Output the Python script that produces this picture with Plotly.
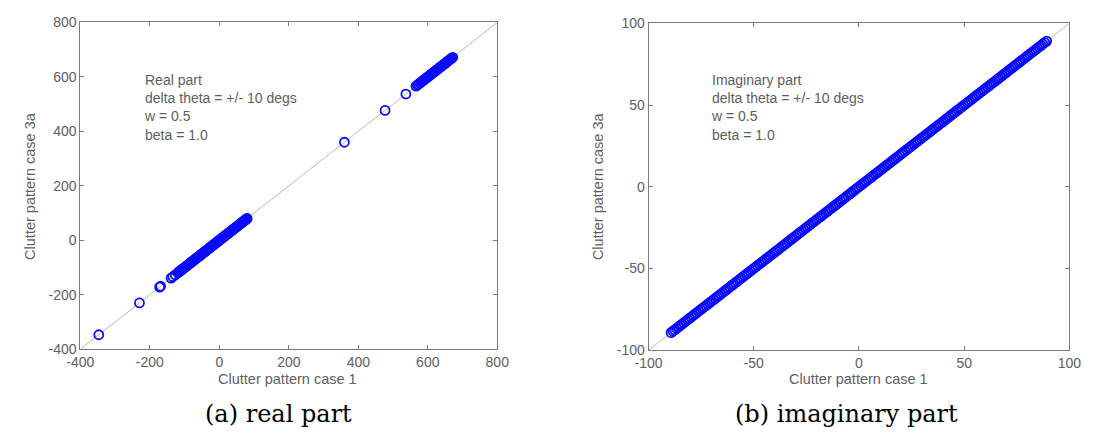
import plotly.graph_objects as go

# Real part: clutter pattern case 1 (x) vs case 3a (y)
real_case1 = [-347, -230, -172, -169, -139, -134, -127,
              -119, -117, -115, -113, -111, -109, -107, -105, -103, -101, -99, -97, -95,
              -93, -91, -89, -87, -85, -83, -81, -79, -77, -75, -73, -71, -69, -67,
              -65, -63, -61, -59, -57, -55, -53, -51, -49, -47, -45, -43, -41, -39,
              -37, -35, -33, -31, -29, -27, -25, -23, -21, -19, -17, -15, -13, -11,
              -9, -7, -5, -3, -1, 1, 3, 5, 7, 9, 11, 13, 15, 17, 19, 21, 23, 25, 27,
              29, 31, 33, 35, 37, 39, 41, 43, 45, 47, 49, 51, 53, 55, 57, 59, 61, 63,
              65, 67, 69, 71, 73, 75, 77, 79, 80,
              360, 477, 537, 566, 570, 573, 577, 580, 583, 586, 589, 592, 595, 598,
              601, 604, 607, 610, 613, 616, 619, 622, 625, 628, 631, 634, 637, 640,
              643, 646, 649, 652, 655, 658, 661, 664, 667, 670, 672]
real_case3a = [-347, -230, -172, -169, -139, -134, -127,
               -119, -117, -115, -113, -111, -109, -107, -105, -103, -101, -99, -97, -95,
               -93, -91, -89, -87, -85, -83, -81, -79, -77, -75, -73, -71, -69, -67,
               -65, -63, -61, -59, -57, -55, -53, -51, -49, -47, -45, -43, -41, -39,
               -37, -35, -33, -31, -29, -27, -25, -23, -21, -19, -17, -15, -13, -11,
               -9, -7, -5, -3, -1, 1, 3, 5, 7, 9, 11, 13, 15, 17, 19, 21, 23, 25, 27,
               29, 31, 33, 35, 37, 39, 41, 43, 45, 47, 49, 51, 53, 55, 57, 59, 61, 63,
               65, 67, 69, 71, 73, 75, 77, 79, 80,
               360, 477, 537, 566, 570, 573, 577, 580, 583, 586, 589, 592, 595, 598,
               601, 604, 607, 610, 613, 616, 619, 622, 625, 628, 631, 634, 637, 640,
               643, 646, 649, 652, 655, 658, 661, 664, 667, 670, 672]

# Imaginary part: clutter pattern case 1 (x) vs case 3a (y)
imag_case1 = [-89.3, -88.4, -87.6, -86.7, -85.8, -84.9, -84.1, -83.2, -82.3, -81.4,
              -80.6, -79.7, -78.8, -77.9, -77.1, -76.2, -75.3, -74.4, -73.6, -72.7,
              -71.8, -70.9, -70.1, -69.2, -68.3, -67.4, -66.6, -65.7, -64.8, -63.9,
              -63.1, -62.2, -61.3, -60.4, -59.6, -58.7, -57.8, -56.9, -56.1, -55.2,
              -54.3, -53.4, -52.6, -51.7, -50.8, -49.9, -49.1, -48.2, -47.3, -46.4,
              -45.6, -44.7, -43.8, -42.9, -42.1, -41.2, -40.3, -39.4, -38.6, -37.7,
              -36.8, -35.9, -35.1, -34.2, -33.3, -32.4, -31.6, -30.7, -29.8, -28.9,
              -28.1, -27.2, -26.3, -25.4, -24.6, -23.7, -22.8, -21.9, -21.1, -20.2,
              -19.3, -18.4, -17.6, -16.7, -15.8, -14.9, -14.1, -13.2, -12.3, -11.4,
              -10.6, -9.7, -8.8, -7.9, -7.1, -6.2, -5.3, -4.4, -3.6, -2.7, -1.8, -0.9,
              -0.1, 0.8, 1.7, 2.6, 3.4, 4.3, 5.2, 6.1, 6.9, 7.8, 8.7, 9.6, 10.4, 11.3,
              12.2, 13.1, 13.9, 14.8, 15.7, 16.6, 17.4, 18.3, 19.2, 20.1, 20.9, 21.8,
              22.7, 23.6, 24.4, 25.3, 26.2, 27.1, 27.9, 28.8, 29.7, 30.6, 31.4, 32.3,
              33.2, 34.1, 34.9, 35.8, 36.7, 37.6, 38.4, 39.3, 40.2, 41.1, 41.9, 42.8,
              43.7, 44.6, 45.4, 46.3, 47.2, 48.1, 48.9, 49.8, 50.7, 51.6, 52.4, 53.3,
              54.2, 55.1, 55.9, 56.8, 57.7, 58.6, 59.4, 60.3, 61.2, 62.1, 62.9, 63.8,
              64.7, 65.6, 66.4, 67.3, 68.2, 69.1, 69.9, 70.8, 71.7, 72.6, 73.4, 74.3,
              75.2, 76.1, 76.9, 77.8, 78.7, 79.6, 80.4, 81.3, 82.2, 83.1, 83.9, 84.8,
              85.7, 86.6, 87.4, 88.3, 89.2]
imag_case3a = [-89.3, -88.4, -87.6, -86.7, -85.8, -84.9, -84.1, -83.2, -82.3, -81.4,
               -80.6, -79.7, -78.8, -77.9, -77.1, -76.2, -75.3, -74.4, -73.6, -72.7,
               -71.8, -70.9, -70.1, -69.2, -68.3, -67.4, -66.6, -65.7, -64.8, -63.9,
               -63.1, -62.2, -61.3, -60.4, -59.6, -58.7, -57.8, -56.9, -56.1, -55.2,
               -54.3, -53.4, -52.6, -51.7, -50.8, -49.9, -49.1, -48.2, -47.3, -46.4,
               -45.6, -44.7, -43.8, -42.9, -42.1, -41.2, -40.3, -39.4, -38.6, -37.7,
               -36.8, -35.9, -35.1, -34.2, -33.3, -32.4, -31.6, -30.7, -29.8, -28.9,
               -28.1, -27.2, -26.3, -25.4, -24.6, -23.7, -22.8, -21.9, -21.1, -20.2,
               -19.3, -18.4, -17.6, -16.7, -15.8, -14.9, -14.1, -13.2, -12.3, -11.4,
               -10.6, -9.7, -8.8, -7.9, -7.1, -6.2, -5.3, -4.4, -3.6, -2.7, -1.8, -0.9,
               -0.1, 0.8, 1.7, 2.6, 3.4, 4.3, 5.2, 6.1, 6.9, 7.8, 8.7, 9.6, 10.4, 11.3,
               12.2, 13.1, 13.9, 14.8, 15.7, 16.6, 17.4, 18.3, 19.2, 20.1, 20.9, 21.8,
               22.7, 23.6, 24.4, 25.3, 26.2, 27.1, 27.9, 28.8, 29.7, 30.6, 31.4, 32.3,
               33.2, 34.1, 34.9, 35.8, 36.7, 37.6, 38.4, 39.3, 40.2, 41.1, 41.9, 42.8,
               43.7, 44.6, 45.4, 46.3, 47.2, 48.1, 48.9, 49.8, 50.7, 51.6, 52.4, 53.3,
               54.2, 55.1, 55.9, 56.8, 57.7, 58.6, 59.4, 60.3, 61.2, 62.1, 62.9, 63.8,
               64.7, 65.6, 66.4, 67.3, 68.2, 69.1, 69.9, 70.8, 71.7, 72.6, 73.4, 74.3,
               75.2, 76.1, 76.9, 77.8, 78.7, 79.6, 80.4, 81.3, 82.2, 83.1, 83.9, 84.8,
               85.7, 86.6, 87.4, 88.3, 89.2]

real_range = [-400, 800]
real_ticks = [-400, -200, 0, 200, 400, 600, 800]
real_ticktext = ["-400", "-200", "0", "200", "400", "600", "800"]
imag_range = [-100, 100]
imag_ticks = [-100, -50, 0, 50, 100]
imag_ticktext = ["-100", "-50", "0", "50", "100"]

real_note = ["Real part", "delta theta = +/- 10 degs", "w = 0.5", "beta = 1.0"]
imag_note = ["Imaginary part", "delta theta = +/- 10 degs", "w = 0.5", "beta = 1.0"]

W, H = 1096, 441
AXIS_GREY = "#7a7a7a"
TEXT_GREY = "#5e5e5e"
LINE_COLOR = "#a9c2a9"
MARKER_BLUE = "#0a0aff"

fig = go.Figure()

# reference diagonal y = x
fig.add_trace(go.Scatter(x=real_range, y=real_range, mode="lines",
                         line=dict(color=LINE_COLOR, width=1), xaxis="x", yaxis="y",
                         showlegend=False, hoverinfo="skip"))
fig.add_trace(go.Scatter(x=imag_range, y=imag_range, mode="lines",
                         line=dict(color=LINE_COLOR, width=1), xaxis="x2", yaxis="y2",
                         showlegend=False, hoverinfo="skip"))

marker = dict(symbol="circle-open", size=9, color=MARKER_BLUE,
              line=dict(width=1.8, color=MARKER_BLUE))
fig.add_trace(go.Scatter(x=real_case1, y=real_case3a, mode="markers", marker=marker,
                         xaxis="x", yaxis="y", showlegend=False))
fig.add_trace(go.Scatter(x=imag_case1, y=imag_case3a, mode="markers", marker=marker,
                         xaxis="x2", yaxis="y2", showlegend=False))


def px_x(p):
    return p / W


def px_y(p):
    return 1 - p / H


axis_common = dict(showline=True, mirror="ticks", linecolor=AXIS_GREY, linewidth=1,
                   ticks="inside", ticklen=4, tickcolor=AXIS_GREY, showgrid=False,
                   zeroline=False, tickmode="array",
                   tickfont=dict(family="Liberation Sans, Arial", size=14, color=TEXT_GREY))

fig.update_layout(
    width=W, height=H, margin=dict(l=0, r=0, t=0, b=0),
    paper_bgcolor="white", plot_bgcolor="white",
    xaxis=dict(domain=[px_x(68), px_x(495)], range=real_range, tickvals=real_ticks,
               ticktext=real_ticktext, anchor="y", **axis_common),
    yaxis=dict(domain=[px_y(354), px_y(15)], range=real_range, tickvals=real_ticks,
               ticktext=real_ticktext, anchor="x", **axis_common),
    xaxis2=dict(domain=[px_x(650), px_x(1081)], range=imag_range, tickvals=imag_ticks,
                ticktext=imag_ticktext, anchor="y2", **axis_common),
    yaxis2=dict(domain=[px_y(355), px_y(16)], range=imag_range, tickvals=imag_ticks,
                ticktext=imag_ticktext, anchor="x2", **axis_common),
)

label_font = dict(family="Liberation Sans, Arial", size=14.5, color=TEXT_GREY)
note_font = dict(family="Liberation Sans, Arial", size=14, color=TEXT_GREY)
caption_font = dict(family="DejaVu Serif, serif", size=24, color="black")

annotations = [
    # axis titles
    dict(x=px_x(280), y=px_y(385), text="Clutter pattern case 1", font=label_font),
    dict(x=px_x(865), y=px_y(385), text="Clutter pattern case 1", font=label_font),
    dict(x=px_x(17), y=px_y(185), text="Clutter pattern case 3a", font=label_font, textangle=-90),
    dict(x=px_x(598), y=px_y(185), text="Clutter pattern case 3a", font=label_font, textangle=-90),
    # sub-figure captions
    dict(x=px_x(271), y=px_y(421), text="(a) real part", font=caption_font),
    dict(x=px_x(853), y=px_y(421), text="(b) imaginary part", font=caption_font),
    # parameter notes
    dict(x=px_x(131), y=px_y(64), text="<br>".join(real_note), font=note_font,
         xanchor="left", yanchor="top", align="left"),
    dict(x=px_x(712), y=px_y(64), text="<br>".join(imag_note), font=note_font,
         xanchor="left", yanchor="top", align="left"),
]
for a in annotations:
    a.setdefault("xanchor", "center")
    a.setdefault("yanchor", "middle")
    a.update(xref="paper", yref="paper", showarrow=False)
fig.update_layout(annotations=annotations)

fig.write_html("out.html")
